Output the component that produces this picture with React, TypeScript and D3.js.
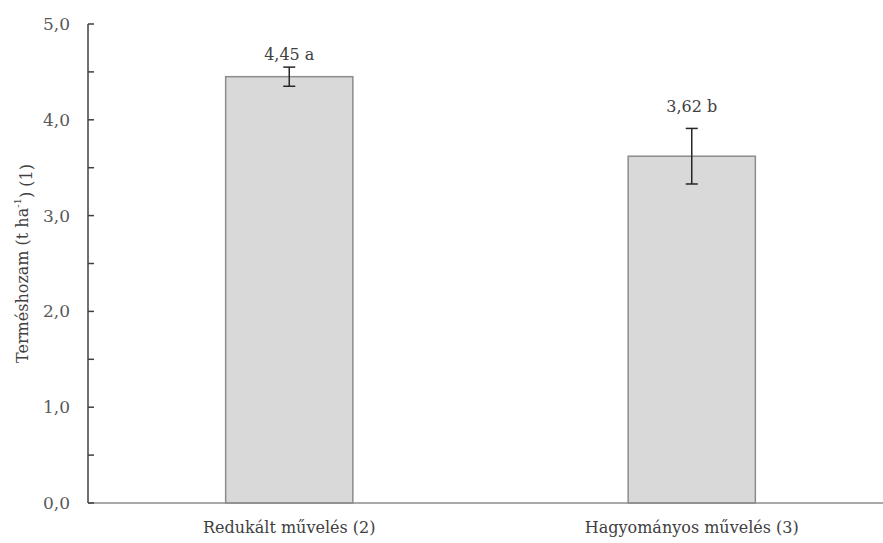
import { useEffect, useRef } from "react";
import * as d3 from "d3";

const categories = ["Redukált művelés (2)", "Hagyományos művelés (3)"];
const yields = [4.45, 3.62];
const errors = [0.1, 0.29];
const letters = ["a", "b"];
const yTicks = [0, 1, 2, 3, 4, 5];

const W = 883;
const H = 543;
const FONT = "DejaVu Serif, serif";
// gap in px between error-bar cap and label baseline (labels were hand placed)
const labelGap = [7, 16];

export default function App() {
  const svgRef = useRef<SVGSVGElement>(null);

  useEffect(() => {
    const svg = d3.select(svgRef.current);
    svg.selectAll("*").remove();

    const left = 88;
    const x = d3.scaleBand<string>()
      .domain(categories)
      .range([left, 893])
      .paddingInner(0.684)
      .paddingOuter(0.342);
    const y = d3.scaleLinear().domain([0, 5]).range([503, 24]);

    // bars
    svg.append("g")
      .selectAll("rect")
      .data(categories)
      .join("rect")
      .attr("x", d => x(d)!)
      .attr("y", (d, i) => y(yields[i]))
      .attr("width", x.bandwidth())
      .attr("height", (d, i) => y(0) - y(yields[i]))
      .attr("fill", "#d9d9d9")
      .attr("stroke", "#8c8c8c")
      .attr("stroke-width", 1.5);

    // x axis line
    svg.append("line")
      .attr("x1", left).attr("x2", W)
      .attr("y1", y(0)).attr("y2", y(0))
      .attr("stroke", "#8c8c8c")
      .attr("stroke-width", 1.5);

    // y axis with inward ticks
    const ya = svg.append("g");
    ya.append("line")
      .attr("x1", left).attr("x2", left)
      .attr("y1", y(0)).attr("y2", y(5))
      .attr("stroke", "#404040")
      .attr("stroke-width", 1.5);
    ya.selectAll(".tk")
      .data(d3.range(0, 5.01, 0.5))
      .join("line")
      .attr("class", "tk")
      .attr("x1", left).attr("x2", left + 6)
      .attr("y1", d => y(d)).attr("y2", d => y(d))
      .attr("stroke", "#404040")
      .attr("stroke-width", 1.5);
    ya.selectAll("text")
      .data(yTicks)
      .join("text")
      .attr("x", 70)
      .attr("y", d => y(d))
      .attr("dy", "0.35em")
      .attr("text-anchor", "end")
      .attr("font-family", FONT)
      .attr("font-size", 17)
      .attr("fill", "#595959")
      .text(d => d3.format(".1f")(d).replace(".", ","));

    // error bars
    const eb = svg.append("g").attr("stroke", "#262626").attr("stroke-width", 1.5);
    categories.forEach((c, i) => {
      const cx = x(c)! + x.bandwidth() / 2;
      const top = y(yields[i] + errors[i]);
      const bot = y(yields[i] - errors[i]);
      eb.append("line").attr("x1", cx).attr("x2", cx).attr("y1", top).attr("y2", bot);
      eb.append("line").attr("x1", cx - 6).attr("x2", cx + 6).attr("y1", top).attr("y2", top);
      eb.append("line").attr("x1", cx - 6).attr("x2", cx + 6).attr("y1", bot).attr("y2", bot);

      svg.append("text")
        .attr("x", cx)
        .attr("y", top - labelGap[i])
        .attr("text-anchor", "middle")
        .attr("font-family", FONT)
        .attr("font-size", 16)
        .attr("fill", "#404040")
        .text(`${yields[i].toFixed(2).replace(".", ",")} ${letters[i]}`);

      svg.append("text")
        .attr("x", cx)
        .attr("y", 527)
        .attr("dy", "0.35em")
        .attr("text-anchor", "middle")
        .attr("font-family", FONT)
        .attr("font-size", 16)
        .attr("fill", "#404040")
        .text(c);
    });

    // y title
    const t = svg.append("text")
      .attr("transform", `translate(22,${(y(0) + y(5)) / 2}) rotate(-90)`)
      .attr("text-anchor", "middle")
      .attr("dy", "0.35em")
      .attr("font-family", FONT)
      .attr("font-size", 16)
      .attr("fill", "#404040");
    t.append("tspan").text("Terméshozam (t ha");
    t.append("tspan").attr("font-size", 10).attr("dy", "-0.7em").text("-1");
    t.append("tspan").attr("dy", "0.7em").text(") (1)");
  }, []);

  return (
    <div style={{ position: "absolute", left: 0, top: 0, background: "#fff" }}>
      <svg ref={svgRef} width={W} height={H} style={{ display: "block" }} />
    </div>
  );
}
